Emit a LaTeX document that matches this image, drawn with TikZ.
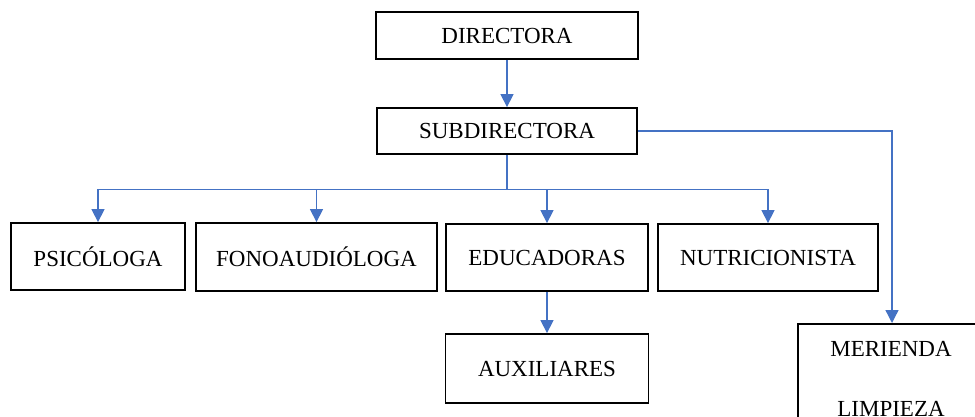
\documentclass[tikz,border=0pt]{standalone}
\usepackage{fontspec}
\setmainfont{Liberation Serif}
\usetikzlibrary{arrows.meta}
\definecolor{conn}{HTML}{4472C4}
\begin{document}
\begin{tikzpicture}[x=1pt,y=-1pt,
  box/.style={draw=black,line width=1.8pt,rectangle,inner sep=0pt,font=\fontsize{23}{27}\selectfont},
  lbl/.style={inner sep=0pt,font=\fontsize{23}{27}\selectfont},
  conline/.style={draw=conn,line width=1.3pt},
  arr/.style={conline,-{Triangle[width=13pt,length=13pt]}}]
\useasboundingbox (0,0) rectangle (975,416);
\clip (0,0) rectangle (975,416);
\node[box,minimum width=262,minimum height=47] (dir) at (507,35.5) {DIRECTORA};
\node[box,minimum width=260,minimum height=46] (sub) at (507,131) {SUBDIRECTORA};
\node[box,minimum width=174,minimum height=67] (psi) at (98,256.5) {PSICÓLOGA};
\node[box,minimum width=241,minimum height=68] (fono) at (316.5,257) {FONOAUDIÓLOGA};
\node[box,minimum width=202,minimum height=67] (edu) at (547,257.5) {EDUCADORAS};
\node[box,minimum width=220,minimum height=67] (nut) at (768,257.5) {NUTRICIONISTA};
\node[box,minimum width=203,minimum height=69] (aux) at (547,368.5) {AUXILIARES};
\node[box,anchor=north west,minimum width=210,minimum height=120] (mer) at (797,323) {};
\node[lbl] (merl1) at (891,349) {MERIENDA};
\node[lbl] (merl2) at (891,409) {LIMPIEZA};
\coordinate (bus) at (507,189.5);
\coordinate (merin) at (892,323);
\draw[arr] (dir.south) -- (sub.north);
\draw[conline] (sub.south) -- (bus);
\draw[arr] (bus) -| (psi.north);
\draw[arr] (bus) -| (fono.north);
\draw[arr] (bus) -| (edu.north);
\draw[arr] (bus) -| (nut.north);
\draw[arr] (edu.south) -- (aux.north);
\draw[arr] (sub.east) -| (merin);
\end{tikzpicture}
\end{document}
